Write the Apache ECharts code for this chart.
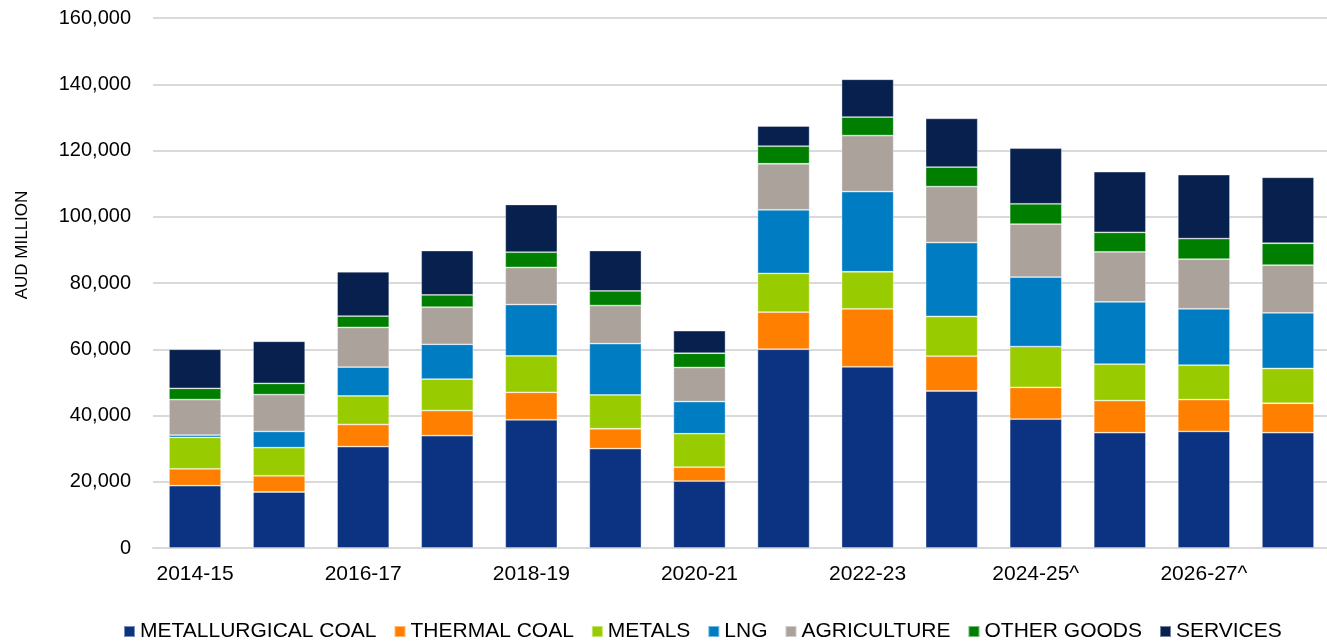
<!DOCTYPE html>
<html>
<head>
<meta charset="utf-8">
<script src="https://cdn.jsdelivr.net/npm/echarts@6/dist/echarts.min.js"></script>
<style>
  html, body { margin: 0; padding: 0; background: #ffffff; }
  #chart { width: 1327px; height: 641px; }
</style>
</head>
<body>
<div id="chart"></div>
<script>
// Financial years (^ = forecast)
const categories = ['2014-15', '2015-16', '2016-17', '2017-18', '2018-19', '2019-20', '2020-21',
  '2021-22', '2022-23', '2023-24', '2024-25^', '2025-26^', '2026-27^', '2027-28^'];

// Export values, AUD million
const metallurgicalCoal = [18800, 16900, 30600, 33900, 38700, 30000, 20200, 60000, 54700, 47400, 38900, 34800, 35200, 34800];
const thermalCoal       = [5100, 4900, 6700, 7600, 8300, 6000, 4200, 11200, 17500, 10500, 9600, 9700, 9600, 8900];
const metals            = [9500, 8500, 8600, 9500, 11000, 10200, 10100, 11700, 11200, 12000, 12300, 11000, 10400, 10500];
const lng               = [700, 4900, 8700, 10500, 15500, 15500, 9700, 19200, 24200, 22300, 21000, 18800, 17000, 16800];
const agriculture       = [10700, 11100, 12000, 11200, 11200, 11500, 10300, 13900, 16900, 16900, 16000, 15100, 15000, 14400];
const otherGoods        = [3400, 3400, 3400, 3700, 4600, 4400, 4300, 5300, 5600, 5900, 6100, 5900, 6200, 6600];
const services          = [11800, 12700, 13400, 13400, 14400, 12200, 6800, 6100, 11400, 14700, 16800, 18300, 19300, 19900];

const seriesNames = ['METALLURGICAL COAL', 'THERMAL COAL', 'METALS', 'LNG', 'AGRICULTURE', 'OTHER GOODS', 'SERVICES'];
const seriesData = [metallurgicalCoal, thermalCoal, metals, lng, agriculture, otherGoods, services];
const seriesColors = ['#0b3382', '#ff8000', '#99cc00', '#007cc2', '#aaa29b', '#007e00', '#08204d'];

const FONT = '"Liberation Sans", Arial, sans-serif';

const chart = echarts.init(document.getElementById('chart'), null, { renderer: 'canvas' });

chart.setOption({
  animation: false,
  backgroundColor: '#ffffff',
  grid: { left: 153, width: 1177, top: 18, height: 530, containLabel: false, outerBoundsMode: 'none' },
  legend: {
    left: 123,
    top: 621,
    padding: 0,
    itemWidth: 11,
    itemHeight: 11,
    itemGap: 17,
    icon: 'rect',
    textStyle: { fontFamily: FONT, fontSize: 21, color: '#000000' },
    data: seriesNames
  },
  xAxis: {
    type: 'category',
    data: categories,
    axisLine: { show: true, lineStyle: { color: '#d9d9d9', width: 2 } },
    axisTick: { show: false },
    axisLabel: {
      interval: 1,
      margin: 16,
      fontFamily: FONT,
      fontSize: 21,
      color: '#000000'
    }
  },
  yAxis: {
    type: 'value',
    min: 0,
    max: 160000,
    interval: 20000,
    name: 'AUD MILLION',
    nameLocation: 'middle',
    nameRotate: 90,
    nameGap: 122,
    nameTextStyle: { fontFamily: FONT, fontSize: 17, color: '#000000', padding: [0, 0, 0, 76] },
    axisLine: { show: false },
    axisTick: { show: false },
    splitLine: { show: true, lineStyle: { color: '#d9d9d9', width: 2 } },
    axisLabel: {
      margin: 22,
      fontFamily: FONT,
      fontSize: 20,
      color: '#000000',
      formatter: v => v.toLocaleString('en-US')
    }
  },
  series: seriesNames.map((name, i) => ({
    name: name,
    type: 'bar',
    stack: 'exports',
    barCategoryGap: '38%',
    data: seriesData[i],
    itemStyle: {
      color: seriesColors[i],
      borderColor: 'rgba(255,255,255,0.45)',
      borderWidth: 0.8
    }
  }))
});
</script>
</body>
</html>
